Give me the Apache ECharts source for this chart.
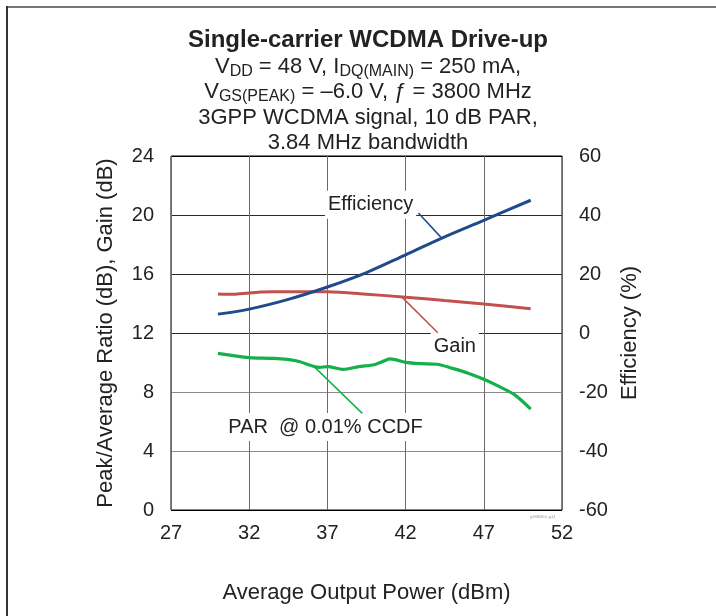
<!DOCTYPE html>
<html>
<head>
<meta charset="utf-8">
<script src="https://cdn.jsdelivr.net/npm/echarts@6/dist/echarts.min.js"></script>
<style>
  html, body { margin: 0; padding: 0; background: #fff; }
  #main { width: 716px; height: 616px; }
</style>
</head>
<body>
<div id="main"></div>
<script>
// x ticks (dBm), left ticks (dB), right ticks (%)
const xTicks = [27, 32, 37, 42, 47, 52];
const leftTicks = [0, 4, 8, 12, 16, 20, 24];
const rightTicks = [-60, -40, -20, 0, 20, 40, 60];

// Efficiency (%) vs Pout
const effPower = [30, 32, 34.5, 37, 39.5, 42, 44.5, 47, 50];
const effValues = [6.4, 8.1, 11.4, 15.6, 20.5, 26.5, 32.6, 38.2, 45];

// Gain (dB)
const gainPower = [30, 31, 32, 33.5, 35, 37, 39.5, 42, 44.5, 47, 50];
const gainValues = [14.65, 14.62, 14.72, 14.79, 14.8, 14.79, 14.63, 14.43, 14.2, 13.97, 13.65];

// PAR @ 0.01% CCDF (dB)
const parPower = [30, 32, 33.5, 35, 36.5, 37, 38, 39, 40, 40.5, 41, 42, 43, 44, 45, 46, 47, 48, 49, 50];
const parValues = [10.62, 10.33, 10.28, 10.12, 9.67, 9.72, 9.54, 9.72, 9.85, 10.05, 10.24, 10.01, 9.92, 9.88, 9.6, 9.27, 8.86, 8.36, 7.79, 6.84];

const font = "'Liberation Sans', Arial, Helvetica, sans-serif";
const txt = "#222";

function pairs(xs, ys) {
  return xs.map((x, i) => [x, ys[i]]);
}

const chart = echarts.init(document.getElementById("main"), null, { renderer: "canvas" });

const option = {
  animation: false,
  backgroundColor: "#fff",
  textStyle: { fontFamily: font },
  title: {
    left: 368,
    top: 27,
    textAlign: "center",
    padding: 0,
    itemGap: 1,
    text: "Single-carrier WCDMA Drive-up",
    textStyle: { fontFamily: font, fontSize: 24, fontWeight: "bold", color: txt, lineHeight: 26 },
    subtext:
      "{n|V}{s|DD}{n| = 48 V, I}{s|DQ(MAIN)}{n| = 250 mA,}\n" +
      "{n|V}{s|GS(PEAK)}{n| = –6.0 V, ƒ = 3800 MHz}\n" +
      "{n|3GPP WCDMA signal, 10 dB PAR,}\n" +
      "{n|3.84 MHz bandwidth}",
    subtextStyle: {
      fontFamily: font, fontSize: 22, color: txt, lineHeight: 25.5,
      rich: {
        n: { fontFamily: font, fontSize: 22, color: txt, lineHeight: 25.5 },
        s: { fontFamily: font, fontSize: 16, color: txt, lineHeight: 16, verticalAlign: "bottom" }
      }
    }
  },
  grid: {
    left: 171, top: 156, right: 154, bottom: 106,
    show: true, borderColor: "#000", borderWidth: 1, backgroundColor: "transparent"
  },
  xAxis: {
    type: "value",
    min: xTicks[0], max: xTicks[xTicks.length - 1], interval: 5,
    name: "Average Output Power (dBm)",
    nameLocation: "middle", nameGap: 72,
    nameTextStyle: { fontFamily: font, fontSize: 22, color: txt },
    axisLine: { show: false },
    axisTick: { show: false },
    axisLabel: { fontFamily: font, fontSize: 20, color: txt, margin: 13 },
    splitLine: { show: true, lineStyle: { color: "#6a6a6a", width: 1 } }
  },
  yAxis: [
    {
      type: "value",
      min: leftTicks[0], max: leftTicks[leftTicks.length - 1], interval: 4,
      name: "Peak/Average Ratio (dB), Gain (dB)",
      nameLocation: "middle", nameGap: 54,
      nameTextStyle: { fontFamily: font, fontSize: 22, color: txt },
      axisLine: { show: false },
      axisTick: { show: false },
      axisLabel: { fontFamily: font, fontSize: 20, color: txt, margin: 17 },
      splitLine: {
        show: true,
        lineStyle: { color: ["#000", "#8a8a8a", "#8a8a8a", "#2a2a2a", "#2a2a2a", "#2a2a2a", "#000"], width: 1 }
      }
    },
    {
      type: "value",
      min: rightTicks[0], max: rightTicks[rightTicks.length - 1], interval: 20,
      name: "Efficiency (%)",
      nameLocation: "middle", nameGap: 54,
      nameRotate: 90,
      nameTextStyle: { fontFamily: font, fontSize: 22, color: txt },
      axisLine: { show: false },
      axisTick: { show: false },
      axisLabel: { fontFamily: font, fontSize: 20, color: txt, margin: 17 },
      splitLine: { show: false }
    }
  ],
  series: [
    {
      name: "Gain", type: "line", yAxisIndex: 0, smooth: 0.3, symbol: "none",
      lineStyle: { color: "#c4504e", width: 3 },
      data: pairs(gainPower, gainValues), z: 3
    },
    {
      name: "Efficiency", type: "line", yAxisIndex: 1, smooth: 0.35, symbol: "none",
      lineStyle: { color: "#1f4a8c", width: 3 },
      data: pairs(effPower, effValues), z: 4
    },
    {
      name: "PAR @ 0.01% CCDF", type: "line", yAxisIndex: 0, smooth: 0.3, symbol: "none",
      lineStyle: { color: "#13b04b", width: 3.2 },
      data: pairs(parPower, parValues), z: 3
    }
  ]
};

chart.setOption(option);

// callouts: label centre and leader line, in data units of the left axis
const callouts = [
  { text: "Efficiency", at: [39.76, 20.7], from: [42.82, 20.14], to: [44.25, 18.5], color: "#1f4a8c" },
  { text: "Gain", at: [45.15, 11.09], from: [41.8, 14.4], to: [44.06, 12.02], color: "#c4504e" },
  { text: "PAR  @ 0.01% CCDF", at: [36.88, 5.62], from: [36.2, 9.67], to: [39.23, 6.55], color: "#13b04b" }
];

const elements = [];
callouts.forEach(c => {
  const p = chart.convertToPixel({ gridIndex: 0 }, c.at);
  const a = chart.convertToPixel({ gridIndex: 0 }, c.from);
  const b = chart.convertToPixel({ gridIndex: 0 }, c.to);
  elements.push({
    type: "text", x: p[0], y: p[1], z: 1,
    style: {
      text: c.text, fill: txt, font: "20px " + font,
      align: "center", verticalAlign: "middle",
      backgroundColor: "#fff", padding: [4, 3, 4, 3]
    }
  });
  elements.push({
    type: "line", z: 5,
    shape: { x1: a[0], y1: a[1], x2: b[0], y2: b[1] },
    style: { stroke: c.color, lineWidth: 1.5 }
  });
});

// page frame and the small figure id
elements.push(
  { type: "line", z: 10, shape: { x1: 6, y1: 7, x2: 716, y2: 7 }, style: { stroke: "#777", lineWidth: 2 } },
  { type: "line", z: 10, shape: { x1: 7, y1: 6, x2: 7, y2: 616 }, style: { stroke: "#333", lineWidth: 2 } },
  { type: "text", x: 530, y: 515, z: 10, style: { text: "g38808ch-g14", fill: "#999", font: "4px " + font } }
);

chart.setOption({ graphic: { elements: elements } });
</script>
</body>
</html>
